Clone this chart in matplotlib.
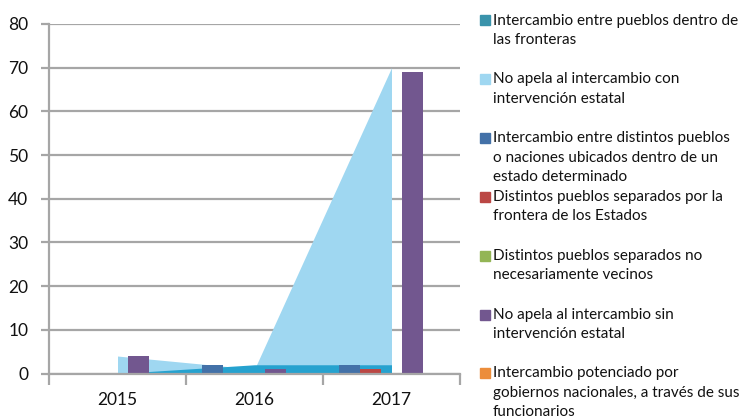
import matplotlib
matplotlib.use("Agg")
import matplotlib.pyplot as plt
from matplotlib.patches import Rectangle
import numpy as np

plt.rcParams['font.family'] = ['Lato', 'DejaVu Sans']

# ---- data ----
years = ["2015", "2016", "2017"]
area_labels = [
    "Intercambio entre pueblos dentro de\nlas fronteras",
    "No apela al intercambio con\nintervención estatal",
]
area_teal = [0, 2, 2]
area_lightblue = [4, 1, 70]

bar_labels = [
    "Intercambio entre distintos pueblos\no naciones ubicados dentro de un\nestado determinado",
    "Distintos pueblos separados por la\nfrontera de los Estados",
    "Distintos pueblos separados no\nnecesariamente vecinos",
    "No apela al intercambio sin\nintervención estatal",
    "Intercambio potenciado por\ngobiernos nacionales, a través de sus\nfuncionarios",
]
bar_values = [
    [0, 2, 2],
    [0, 0, 1],
    [0, 0, 0],
    [4, 1, 69],
    [0, 0, 0],
]
yticks = [0, 10, 20, 30, 40, 50, 60, 70, 80]

# ---- style ----
c_teal = "#26a2cf"
c_teal_leg = "#3a93ab"
c_lightblue = "#9fd7f1"
bar_colors = ["#4371a8", "#bb4744", "#93b555", "#72578f", "#ec8d3b"]
grid_c = "#a6a6a6"

W, H = 741, 419
fig = plt.figure(figsize=(W / 100, H / 100), dpi=100)
left, right, bottom, top = 49, 460, 373.5, 24
ax = fig.add_axes([left / W, 1 - bottom / H, (right - left) / W, (bottom - top) / H])

x = np.arange(len(years))
ax.fill_between(x, 0, area_lightblue, color=c_lightblue, lw=0, zorder=2)
ax.fill_between(x, 0, area_teal, color=c_teal, lw=0, zorder=3)

bw = 21 / 137
start = -0.5 + 16 / 137
for i, vals in enumerate(bar_values):
    ax.bar(x + start + (i + 0.5) * bw, vals, width=bw, color=bar_colors[i],
           zorder=4, lw=0)

ax.set_xlim(-0.5, 2.5)
ax.set_ylim(0, 80)
ax.set_yticks(yticks)
ax.yaxis.grid(True, color=grid_c, lw=1.6, zorder=0)
ax.set_axisbelow(True)
for s in ["top", "right"]:
    ax.spines[s].set_visible(False)
for s in ["left", "bottom"]:
    ax.spines[s].set_color(grid_c)
    ax.spines[s].set_linewidth(1.6)
ax.spines["bottom"].set_zorder(5)

ax.set_xticks(x)
ax.set_xticklabels(years, fontsize=12.5, color="#111111")
ax.set_xticks([-0.5, 0.5, 1.5, 2.5], minor=True)
ax.tick_params(axis="x", which="major", length=0, pad=13.5)
ax.tick_params(axis="x", which="minor", length=8, width=1.6, color=grid_c)
ax.tick_params(axis="y", length=6, width=1.6, color=grid_c, labelsize=12.5,
               pad=9, labelcolor="#111111")

# ---- legend (manual, Excel-like layout) ----
leg_labels = area_labels + bar_labels
leg_colors = [c_teal_leg, c_lightblue] + bar_colors
y0, dy, line_h = 20.5, 58.8, 19.6
for k, (lab, col) in enumerate(zip(leg_labels, leg_colors)):
    yc = y0 + dy * k
    fig.patches.append(Rectangle((480 / W, 1 - (yc + 5) / H), 10 / W, 10 / H,
                                 transform=fig.transFigure, color=col))
    for j, line in enumerate(lab.split("\n")):
        fig.text(493 / W, 1 - (yc + j * line_h) / H, line, fontsize=11,
                 va="center", ha="left", color="#111111")

fig.savefig("out.png", dpi=100)
